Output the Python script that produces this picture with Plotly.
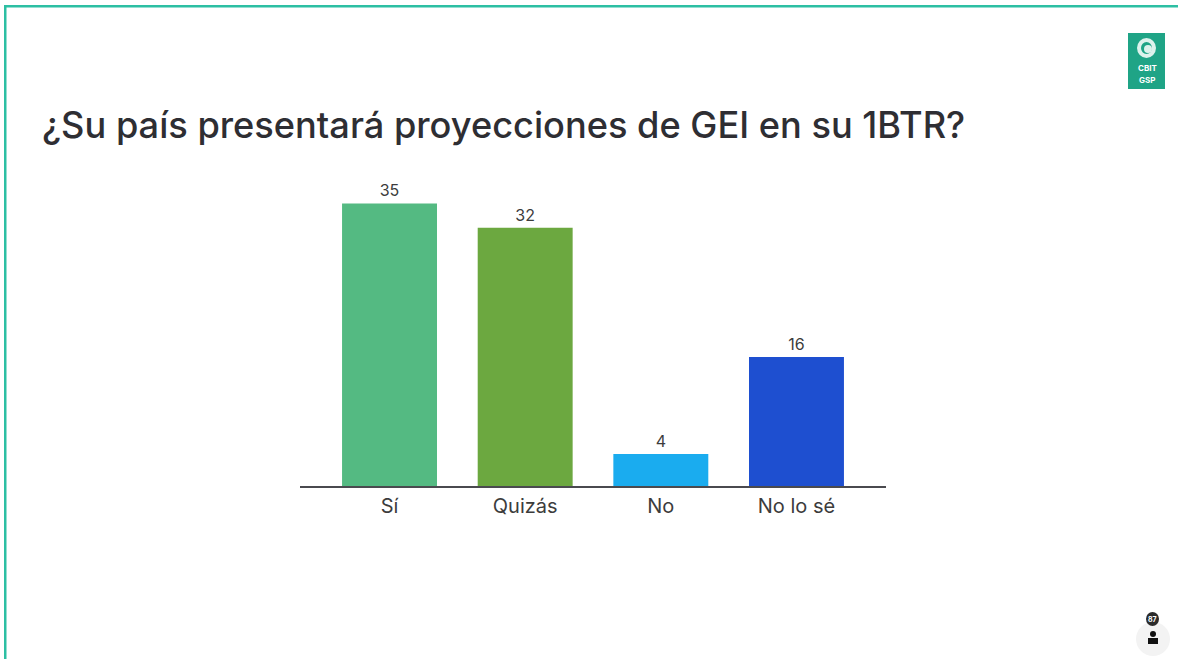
import plotly.graph_objects as go

categories = ["Sí", "Quizás", "No", "No lo sé"]
values = [35, 32, 4, 16]
colors = ["#54BA82", "#6CA840", "#1AACEF", "#1E4FD0"]
title = "¿Su país presentará proyecciones de GEI en su 1BTR?"
W, H = 1178, 659
TEAL = "#2DBFA3"
FONT = "Inter, Open Sans, sans-serif"

def px(x): return x / W
def py(y): return 1 - y / H

fig = go.Figure(go.Bar(
    x=list(range(len(categories))), y=values,
    marker=dict(color=colors, line=dict(width=0)),
    text=values, textposition="outside", cliponaxis=False,
    textfont=dict(family=FONT, size=16, color="#3c3c3c"),
    hoverinfo="skip",
))

def rect(x0, y0, x1, y1, color):
    return dict(type="rect", xref="paper", yref="paper", x0=px(x0), x1=px(x1),
                y0=py(y1), y1=py(y0), fillcolor=color, line=dict(width=0), layer="below")

def circle(x0, y0, x1, y1, color):
    return dict(type="circle", xref="paper", yref="paper", x0=px(x0), x1=px(x1),
                y0=py(y1), y1=py(y0), fillcolor=color, line=dict(width=0), layer="below")

shapes = [
    rect(4, 5, W, 7.5, TEAL),
    rect(4, 5, 6.5, H, TEAL),
    rect(1128, 33, 1165, 89, "#1FA486"),
    circle(1137, 38, 1156, 58, "#DDF2EC"),
    circle(1141, 42, 1152, 54, "#1FA486"),
    circle(1144, 45, 1152, 53, "#DDF2EC"),
    circle(1136, 622, 1170, 656, "#F3F3F3"),
    circle(1146, 612, 1159, 626, "#2B2B2B"),
    circle(1150, 631, 1156, 637, "#111111"),
    rect(1148, 638, 1158, 644, "#111111"),
]

def note(text, x, y, size, color="white", anchor="center", weight=None):
    f = dict(family=FONT, size=size, color=color)
    if weight:
        f["weight"] = weight
    return dict(text=text, xref="paper", yref="paper", x=px(x), y=py(y), xanchor=anchor, yanchor="middle",
                showarrow=False, font=f)

annotations = [
    note(title, 40, 125, 36.2, "#2E2E33", "left", 500),
    note("<b>CBIT</b>", 1147, 68, 8),
    note("<b>GSP</b>", 1147, 80, 8),
    note("<b>87</b>", 1152.5, 619, 7),
]

plot_top, plot_bottom = 163.0, 486.4
fig.update_layout(
    width=W, height=H, margin=dict(l=0, r=0, t=0, b=0, pad=0), autosize=False,
    paper_bgcolor="white", plot_bgcolor="white", showlegend=False,
    bargap=0.3, shapes=shapes, annotations=annotations,
    xaxis=dict(domain=[px(300), px(886)], range=[-0.66, 3.66], tickmode="array",
               tickvals=list(range(len(categories))), ticktext=categories,
               showgrid=False, zeroline=False, showline=True, linecolor="#4a4a4f", linewidth=2,
               ticks="", fixedrange=True, ticklabelstandoff=1,
               tickfont=dict(family=FONT, size=20, color="#3c3c3c")),
    yaxis=dict(domain=[py(plot_bottom), py(plot_top)], range=[0, 40], visible=False, fixedrange=True),
)
fig.write_html("out.html", config=dict(displayModeBar=False),
               post_script="document.body.style.margin='0';")
